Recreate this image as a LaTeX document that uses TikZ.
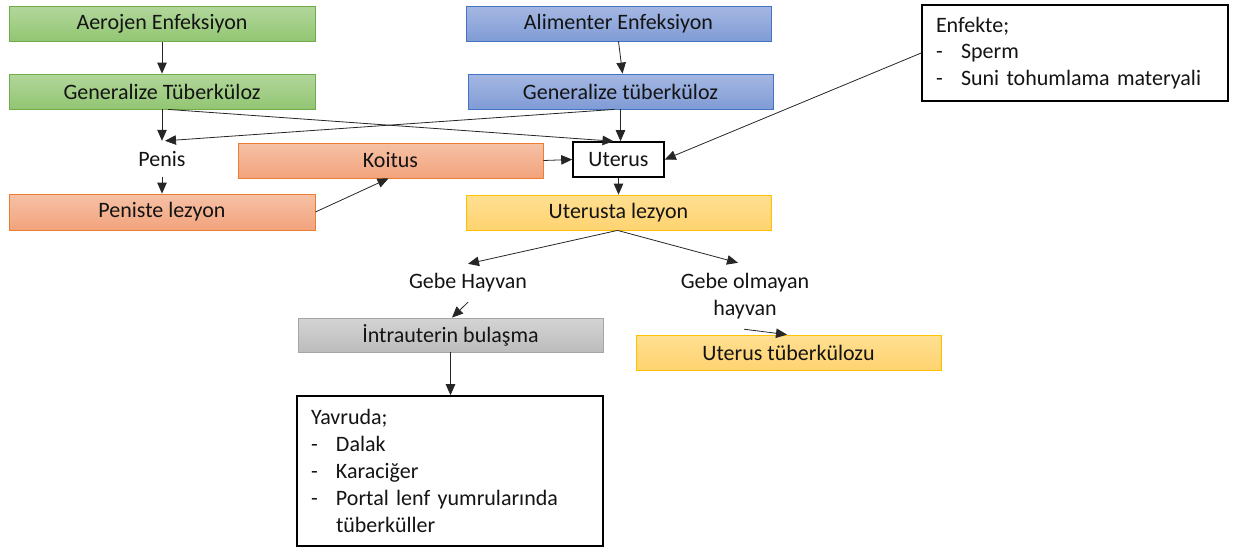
\documentclass[tikz,border=0pt]{standalone}
\usepackage{fontspec}
\setmainfont{Carlito}
\usetikzlibrary{arrows.meta}
\definecolor{gtop}{RGB}{178,214,155}
\definecolor{gbot}{RGB}{146,198,114}
\definecolor{gbrd}{RGB}{112,173,71}
\definecolor{btop}{RGB}{165,183,226}
\definecolor{bbot}{RGB}{128,156,214}
\definecolor{bbrd}{RGB}{68,114,196}
\definecolor{otop}{RGB}{246,193,166}
\definecolor{obot}{RGB}{242,163,124}
\definecolor{obrd}{RGB}{237,125,49}
\definecolor{ytop}{RGB}{255,223,145}
\definecolor{ybot}{RGB}{255,211,112}
\definecolor{ybrd}{RGB}{255,192,0}
\definecolor{ltop}{RGB}{212,212,212}
\definecolor{lbot}{RGB}{188,188,188}
\definecolor{lbrd}{RGB}{165,165,165}
\tikzset{
  every node/.style={font=\fontsize{22}{26.8}\selectfont, text=black!92},
  box/.style={rectangle, minimum width=306pt, minimum height=35pt, inner sep=0pt, line width=0.8pt},
  greenbox/.style={box, draw=gbrd, top color=gtop, bottom color=gbot},
  bluebox/.style={box, draw=bbrd, top color=btop, bottom color=bbot},
  orangebox/.style={box, draw=obrd, top color=otop, bottom color=obot},
  yellowbox/.style={box, draw=ybrd, top color=ytop, bottom color=ybot},
  graybox/.style={box, draw=lbrd, top color=ltop, bottom color=lbot},
  blackbox/.style={rectangle, draw=black, line width=1.6pt, fill=white, inner sep=0pt},
  listbox/.style={blackbox, minimum width=306pt, inner xsep=14pt, text width=278pt, align=left},
  plain/.style={inner sep=0pt, align=center},
  arr/.style={draw=black!85, line width=0.8pt, -{Triangle[length=11pt,width=9.5pt]}}
}
\newcommand{\dashitem}[1]{\makebox[25pt][l]{-}#1}
\begin{document}
\begin{tikzpicture}[x=1pt,y=-1pt]
\useasboundingbox (0,0) rectangle (1237,547);
\node[greenbox] (aer) at (162,24) {Aerojen Enfeksiyon};
\node[greenbox] (gent) at (162,91.5) {Generalize Tüberküloz};
\node[plain, minimum height=36pt] (penis) at (162,159) {Penis};
\node[orangebox, minimum width=305pt] (koitus) at (390.5,160.5) {Koitus};
\node[orangebox, minimum height=36pt] (penl) at (162,212) {Peniste lezyon};
\node[bluebox, minimum width=305pt] (alim) at (618.5,23.5) {Alimenter Enfeksiyon};
\node[bluebox, minimum width=305pt] (genb) at (620.5,91.5) {Generalize tüberküloz};
\node[blackbox, minimum width=91pt, minimum height=35pt] (uterus) at (618.5,159.5) {Uterus};
\node[yellowbox, minimum width=305pt] (utl) at (618.5,212.5) {Uterusta lezyon};
\node[listbox, minimum height=96pt] (enf) at (1075,53) {Enfekte;\\ \dashitem{Sperm}\\ \dashitem{Suni tohumlama materyali}};
\node[plain, minimum height=38pt] (gebe) at (468,283) {Gebe Hayvan};
\node[plain, minimum height=66pt] (gebeol) at (745,296) {Gebe olmayan\\ hayvan};
\node[graybox, minimum width=305pt, minimum height=34pt] (intra) at (450.5,335) {İntrauterin bulaşma};
\node[yellowbox, minimum width=305pt] (uttub) at (788.5,352.5) {Uterus tüberkülozu};
\node[listbox, minimum height=150pt] (yav) at (450,471) {Yavruda;\\ \dashitem{Dalak}\\ \dashitem{Karaciğer}\\ \dashitem{Portal lenf yumrularında}\\ \hspace*{25pt}tüberküller};

\draw[arr] (aer.south) -- (gent.north);
\draw[arr] (alim.south) -- ([xshift=2pt]genb.north);
\draw[arr] (gent.south) -- (penis.north);
\draw[arr] ([xshift=6pt]gent.south) -- ([xshift=-5pt]uterus.north);
\draw[arr] ([xshift=-6pt]genb.south) -- ([xshift=3pt]penis.north);
\draw[arr] (genb.south) -- (genb.south |- uterus.north);
\draw[arr] (penis.south) -- (penl.north);
\draw[arr] (penl.east) -- ([xshift=-2pt]koitus.south);
\draw[arr] (koitus.east) -- (uterus.west);
\draw[arr] (enf.west) -- (uterus.east);
\draw[arr] (uterus.south) -- (uterus.south |- utl.north);
\draw[arr] ([xshift=-1pt]utl.south) -- (gebe.north);
\draw[arr] ([xshift=-1pt]utl.south) -- ([xshift=-7pt]gebeol.north);
\draw[arr] (gebe.south) -- ([xshift=1.5pt]intra.north);
\draw[arr] ([xshift=-1pt]gebeol.south) -- ([xshift=-1.5pt]uttub.north);
\draw[arr] (intra.south) -- (intra.south |- yav.north);
\end{tikzpicture}
\end{document}
